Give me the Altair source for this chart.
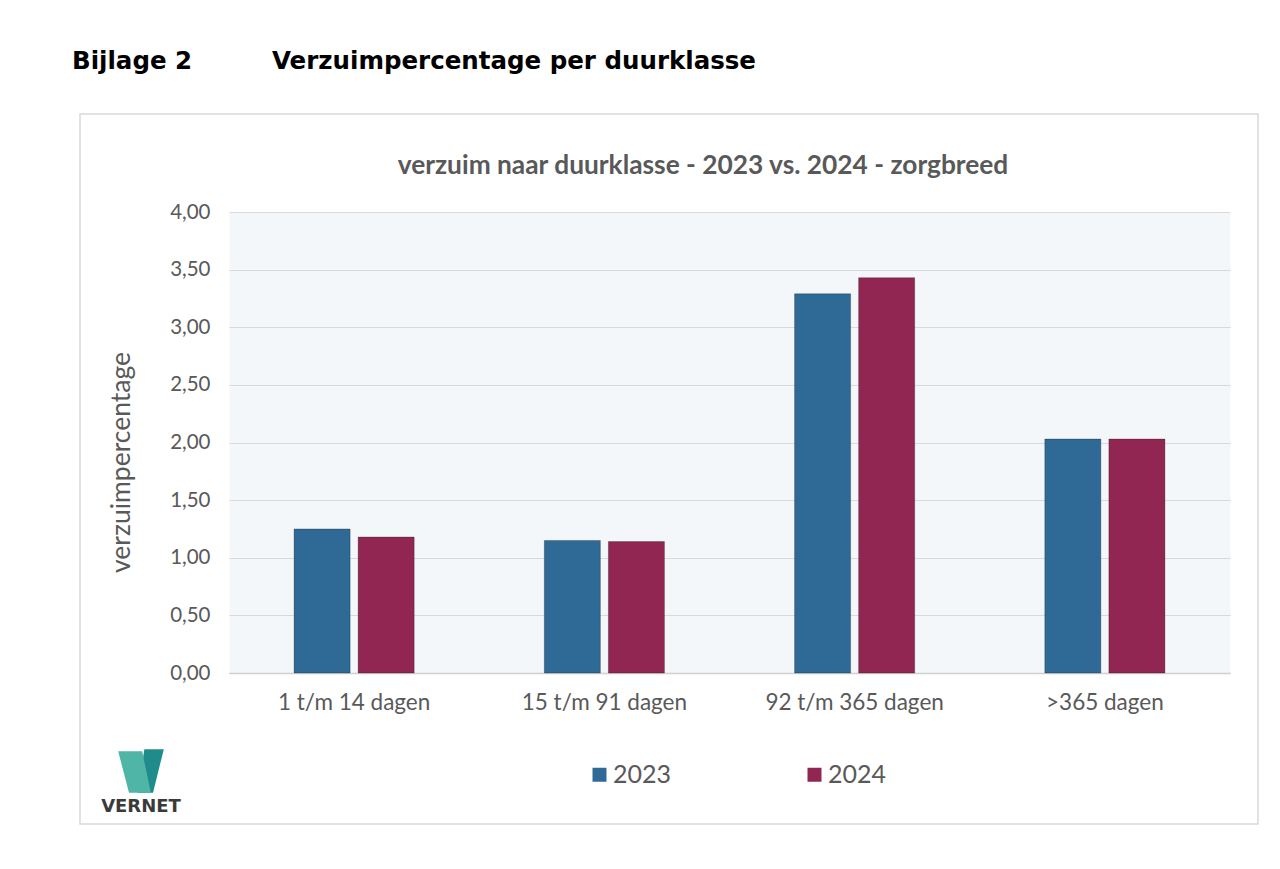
import altair as alt
import pandas as pd

categories = ["1 t/m 14 dagen", "15 t/m 91 dagen", "92 t/m 365 dagen", ">365 dagen"]
years = ["2023", "2024"]
values_2023 = [1.25, 1.15, 3.29, 2.03]
values_2024 = [1.18, 1.14, 3.43, 2.03]
y_ticks = [0, 0.5, 1.0, 1.5, 2.0, 2.5, 3.0, 3.5, 4.0]
colors = ["#2f6a96", "#922653"]

rows = []
for c, a, b in zip(categories, values_2023, values_2024):
    rows.append({"cat": c, "year": "2023", "value": a})
    rows.append({"cat": c, "year": "2024", "value": b})
df = pd.DataFrame(rows)

FONT = "Lato"
GREY = "#595959"

bars = alt.Chart(df).mark_bar(stroke="#000000", strokeOpacity=0.25, strokeWidth=1).encode(
    x=alt.X("cat:N", sort=categories,
            scale=alt.Scale(paddingInner=0.52, paddingOuter=0.26),
            axis=alt.Axis(title=None, labelAngle=0, labelFont=FONT, labelFontSize=22.5,
                          labelColor=GREY, labelPadding=18, ticks=False, tickSize=0,
                          domainColor="#d0d0d0", domainWidth=1.5, grid=False)),
    xOffset=alt.XOffset("year:N", sort=years,
                        scale=alt.Scale(paddingInner=0.125, paddingOuter=0)),
    y=alt.Y("value:Q", scale=alt.Scale(domain=[0, 4], nice=False),
            axis=alt.Axis(values=y_ticks,
                          labelExpr="replace(format(datum.value, '.2f'), '.', ',')",
                          labelFont=FONT, labelFontSize=20.5, labelColor=GREY,
                          labelPadding=19, ticks=False, tickSize=0, domain=False,
                          gridColor="#d9d9d9", gridWidth=1.2,
                          title="verzuimpercentage", titleFont=FONT, titleFontSize=26.5,
                          titleFontWeight="normal", titleColor=GREY, titleAngle=270,
                          titleX=-108, titleY=250, titleAlign="center",
                          titleBaseline="middle")),
    color=alt.Color("year:N", sort=years,
                    scale=alt.Scale(domain=years, range=colors),
                    legend=alt.Legend(title=None, orient="none", legendX=358, legendY=550,
                                      direction="horizontal", symbolType="square",
                                      symbolSize=196, symbolStrokeWidth=0,
                                      labelFont=FONT, labelFontSize=25, labelColor=GREY,
                                      labelOffset=1, columnPadding=130, padding=0)),
)

box = alt.Chart(pd.DataFrame({"k": [0]})).mark_rect(
    fill="transparent", stroke="#d9d9d9", strokeWidth=1.5
).encode(x=alt.value(-149), x2=alt.value(1029), y=alt.value(-98), y2=alt.value(612))

heading1 = alt.Chart(pd.DataFrame({"t": ["Bijlage 2"]})).mark_text(
    font="DejaVu Sans", fontWeight="bold", fontSize=24.5, color="#000000",
    align="left", baseline="alphabetic"
).encode(text="t:N", x=alt.value(-157), y=alt.value(-143))

heading2 = alt.Chart(pd.DataFrame({"t": ["Verzuimpercentage per duurklasse"]})).mark_text(
    font="DejaVu Sans", fontWeight="bold", fontSize=24.5, color="#000000",
    align="left", baseline="alphabetic"
).encode(text="t:N", x=alt.value(43), y=alt.value(-143))

chart_title = alt.Chart(pd.DataFrame({"t": ["verzuim naar duurklasse - 2023 vs. 2024 - zorgbreed"]})).mark_text(
    font=FONT, fontWeight="bold", fontSize=26.3, color=GREY,
    align="center", baseline="alphabetic"
).encode(text="t:N", x=alt.value(474), y=alt.value(-38))

left_arm = "M-0.95,-0.82 L0.05,-0.82 L0.41,0.91 L-0.5,0.91 Z"
right_arm = "M0.14,-0.91 L0.95,-0.91 L0.5,0.91 L-0.14,0.91 Z"

logo_l = alt.Chart(pd.DataFrame({"k": [0]})).mark_point(
    shape=left_arm, filled=True, size=2304, color="#4fb5a6", opacity=1
).encode(x=alt.value(141 - 229), y=alt.value(771 - 212))
logo_r = alt.Chart(pd.DataFrame({"k": [0]})).mark_point(
    shape=right_arm, filled=True, size=2304, color="#1f8b8a", opacity=1
).encode(x=alt.value(141 - 229), y=alt.value(771 - 212))

vernet = alt.Chart(pd.DataFrame({"t": ["VERNET"]})).mark_text(
    font="DejaVu Sans", fontWeight="bold", fontSize=18, color="#3a3a3a",
    align="center", baseline="alphabetic"
).encode(text="t:N", x=alt.value(141 - 229), y=alt.value(812 - 212))

chart = alt.layer(box, bars, heading1, heading2, chart_title, logo_r, logo_l, vernet).properties(
    width=1001, height=461,
    autosize=alt.AutoSizeParams(type="none"),
    padding={"left": 221, "top": 204, "right": 40, "bottom": 190},
    background="#ffffff",
).configure_view(fill="#f3f7fa", stroke="transparent")

chart.save("out.html", embed_options={"renderer": "svg", "actions": False})
